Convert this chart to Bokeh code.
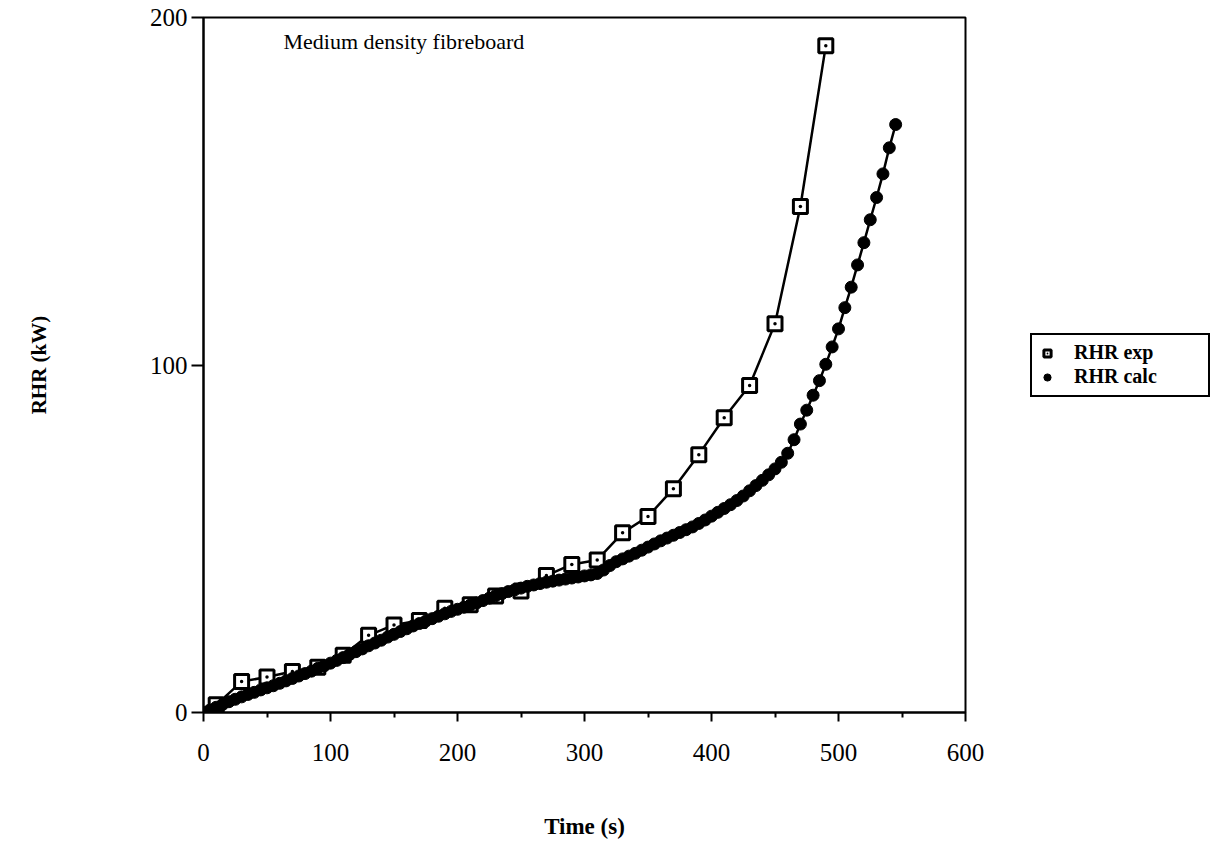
from bokeh.plotting import figure
from bokeh.models import Legend, LegendItem, Label, FixedTicker
from bokeh.embed import file_html
from bokeh.resources import INLINE

# Experimental rate of heat release (squares)
exp_time = [10, 30, 50, 70, 90, 110, 130, 150, 170, 190, 210, 230, 250, 270, 290,
            310, 330, 350, 370, 390, 410, 430, 450, 470, 490]
exp_rhr = [2.2, 8.9, 10.2, 11.8, 13.0, 16.5, 22.2, 25.2, 26.5, 30.0, 31.0, 33.5, 35.0,
           39.4, 42.6, 43.9, 51.7, 56.4, 64.4, 74.2, 84.8, 94.1, 111.9, 145.6, 191.9]

# Calculated rate of heat release (filled dots)
calc_time = list(range(0, 550, 5))
calc_rhr = [0.0, 0.7, 1.5, 2.3, 3.1, 3.8, 4.5, 5.2, 5.8, 6.5, 7.1, 7.7, 8.4, 9.1, 9.8,
            10.5, 11.2, 11.9, 12.7, 13.4, 14.2, 15.0, 15.8, 16.7, 17.5, 18.3, 19.2, 20.0,
            20.8, 21.7, 22.5, 23.3, 24.1, 24.9, 25.6, 26.3, 27.0, 27.7, 28.4, 29.1, 29.7,
            30.3, 30.9, 31.5, 32.2, 32.9, 33.6, 34.2, 34.8, 35.3, 35.8, 36.3, 36.7, 37.1,
            37.5, 37.8, 38.1, 38.4, 38.7, 39.0, 39.3, 39.6, 40.0, 41.0, 42.3, 43.4, 44.2,
            45.0, 45.8, 46.7, 47.6, 48.5, 49.4, 50.2, 51.0, 51.8, 52.6, 53.4, 54.4, 55.4,
            56.5, 57.6, 58.7, 59.8, 61.0, 62.3, 63.8, 65.3, 66.8, 68.4, 70.1, 72.0, 74.6,
            78.5, 83.0, 87.0, 91.3, 95.5, 100.2, 105.2, 110.4, 116.5, 122.4, 128.8, 135.2,
            141.8, 148.2, 155.0, 162.5, 169.2]

x_ticks = [0, 100, 200, 300, 400, 500, 600]
y_ticks = [0, 100, 200]

SERIF = "Liberation Serif"

p = figure(frame_width=762, frame_height=695, x_range=(0, 600), y_range=(0, 200),
           output_backend="svg", toolbar_location=None,
           min_border_left=203, min_border_top=17, min_border_bottom=128,
           min_border_right=240, background_fill_color="white",
           border_fill_color="white")

p.xgrid.visible = False
p.ygrid.visible = False
p.outline_line_color = "black"
p.outline_line_width = 2
p.outline_line_alpha = 1.0

# x axis
p.xaxis.ticker = FixedTicker(ticks=x_ticks, minor_ticks=[50, 150, 250, 350, 450, 550])
p.xaxis.axis_line_width = 2
p.xaxis.major_tick_line_width = 2
p.xaxis.major_tick_out = 9
p.xaxis.major_tick_in = 0
p.xaxis.minor_tick_line_width = 2
p.xaxis.minor_tick_out = 5
p.xaxis.minor_tick_in = 0
p.xaxis.major_label_standoff = 22
p.xaxis.major_label_text_font = SERIF
p.xaxis.major_label_text_font_size = "25px"
p.xaxis.major_label_text_color = "black"
p.xaxis.axis_label = "Time (s)"
p.xaxis.axis_label_text_font = SERIF
p.xaxis.axis_label_text_font_style = "bold"
p.xaxis.axis_label_text_font_size = "23px"
p.xaxis.axis_label_text_color = "black"
p.xaxis.axis_label_standoff = 50

# y axis
p.yaxis.ticker = FixedTicker(ticks=y_ticks, minor_ticks=[])
p.yaxis.axis_line_width = 2
p.yaxis.major_tick_line_width = 2
p.yaxis.major_tick_out = 12
p.yaxis.major_tick_in = 0
p.yaxis.major_label_standoff = 4
p.yaxis.major_label_text_font = SERIF
p.yaxis.major_label_text_font_size = "25px"
p.yaxis.major_label_text_color = "black"
p.yaxis.axis_label = "RHR (kW)"
p.yaxis.axis_label_text_font = SERIF
p.yaxis.axis_label_text_font_style = "bold"
p.yaxis.axis_label_text_font_size = "21px"
p.yaxis.axis_label_text_color = "black"
p.yaxis.axis_label_standoff = 96

# series
p.line(exp_time, exp_rhr, line_color="black", line_width=2.5)
r_exp = p.scatter(exp_time, exp_rhr, marker="square_dot", size=14,
                  fill_color="white", line_color="black", line_width=3)

p.line(calc_time, calc_rhr, line_color="black", line_width=2.5)
r_calc = p.scatter(calc_time, calc_rhr, marker="circle", size=12,
                   fill_color="black", line_color="black")

p.add_layout(Label(x=63, y=193, text="Medium density fibreboard",
                   text_font=SERIF, text_font_size="22px",
                   text_baseline="middle", text_color="black"))

legend = Legend(items=[LegendItem(label="RHR exp", renderers=[r_exp]),
                       LegendItem(label="RHR calc", renderers=[r_calc])],
                location="center_left", margin=65, padding=6, spacing=0,
                label_standoff=18, glyph_width=18, glyph_height=22,
                label_width=128, label_height=24,
                label_text_font=SERIF, label_text_font_style="bold",
                label_text_font_size="20px", label_text_color="black",
                border_line_color="black", border_line_width=2,
                border_line_alpha=1.0, background_fill_alpha=1.0)
p.add_layout(legend, "right")

open("out.html", "w").write(file_html(p, INLINE))
